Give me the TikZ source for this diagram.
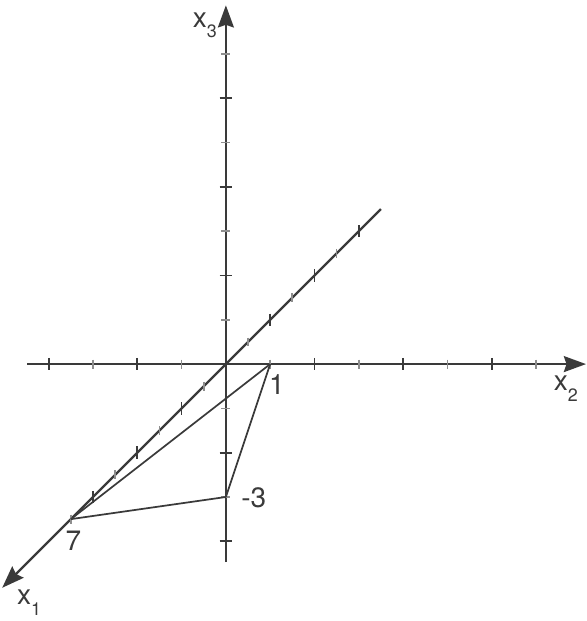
\documentclass[tikz,border=0pt]{standalone}
\usepackage{fontspec}
\setmainfont{TeX Gyre Heros}
\usetikzlibrary{arrows.meta}
\definecolor{axisgray}{HTML}{3A3A3A}
\definecolor{tickgray}{HTML}{8E8E8E}
\newcommand{\axsub}[1]{\raisebox{-7pt}{\fontsize{11.5}{12}\selectfont #1}}

\begin{document}
\begin{tikzpicture}[x={(-0.5cm,-0.5cm)},y={(1cm,0cm)},z={(0cm,1cm)},
  every path/.style={>={Stealth[length=0.5cm,width=0.36cm,inset=0.06cm]}},
  axis/.style={draw=axisgray,line width=1.4pt},
  major/.style={draw=axisgray,line width=1.1pt},
  minor/.style={draw=tickgray,line width=1.1pt},
  side/.style={draw=axisgray,line width=1.1pt},
  lbl/.style={text=axisgray,font=\fontsize{18}{21}\selectfont,inner sep=0pt}]
\useasboundingbox (0,-5.10,-5.80) rectangle (0,8.15,8.22);
% axes
\coordinate (o)    at (0,0,0);
\coordinate (x1a)  at (-7,0,0);
\coordinate (x1b)  at (10.1,0,0);
\coordinate (x2a)  at (0,-4.49,0);
\coordinate (x2b)  at (0,8.13,0);
\coordinate (x3a)  at (0,0,-4.47);
\coordinate (x3b)  at (0,0,8.10);
\draw[axis,->] (x1a) -- (x1b);
\draw[axis,->] (x2a) -- (x2b);
\draw[axis,->] (x3a) -- (x3b);
% ticks
\foreach \i in {-6,-4,-2,2,4,6}
  \draw[major] (\i,0,0.14) -- (\i,0,-0.14);
\foreach \i in {-5,-3,-1,1,3,5,7}
  \draw[minor] (\i,0,0.1) -- (\i,0,-0.1);
\foreach \i in {-4,-2,2,4,6} {
  \draw[major] (0,\i,0.14) -- (0,\i,-0.14);
  \draw[major] (0,-0.14,\i) -- (0,0.14,\i);
}
\foreach \i in {-3,-1,1,3,5,7} {
  \draw[minor] (0,\i,0.1) -- (0,\i,-0.1);
  \draw[minor] (0,-0.1,\i) -- (0,0.1,\i);
}
% triangle
\coordinate (p7)   at (7,0,0);
\coordinate (p1)   at (0,1,0);
\coordinate (p3)   at (0,0,-3);
\draw[side]  (p7) -- (p1);
\draw[side]  (p1) -- (p3);
\draw[side]  (p3) -- (p7);
% labels
\node[lbl]                  (l1)  at (0,1.15,-0.47)  {1};
\node[lbl]                  (l3)  at (0,0.63,-3.02)  {-3};
\node[lbl]                  (l7)  at (0,-3.44,-4.0)  {7};
\node[lbl,anchor=base west] (lx1) at (0,-4.72,-5.42) {x\axsub{1}};
\node[lbl,anchor=base west] (lx2) at (0,7.40,-0.59)  {x\axsub{2}};
\node[lbl,anchor=base west] (lx3) at (0,-0.75,7.61)  {x\axsub{3}};
\end{tikzpicture}
\end{document}
